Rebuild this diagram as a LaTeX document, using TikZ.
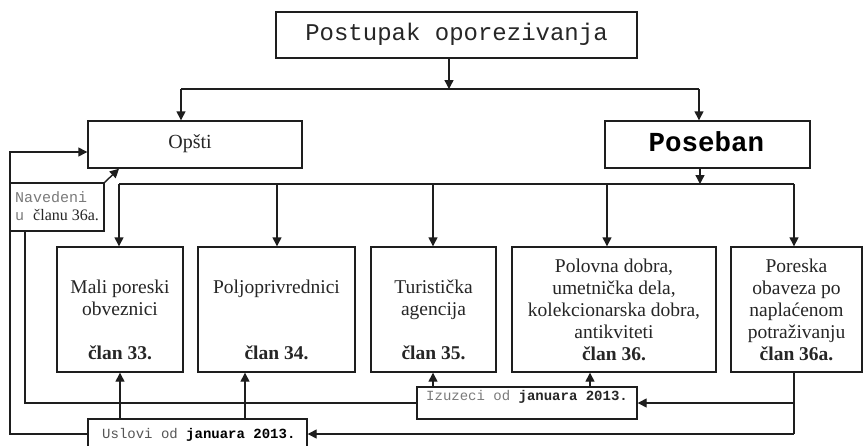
\documentclass[tikz,border=0pt]{standalone}
\usepackage{fontspec}
\setmainfont{Liberation Serif}
\setmonofont{Liberation Mono}
\usetikzlibrary{arrows.meta}
\definecolor{ln}{HTML}{1E1E1E}
\definecolor{gtx}{HTML}{7A7A7A}
\definecolor{dtx}{HTML}{262626}
\tikzset{
  box/.style={draw=ln, line width=1.4pt, rectangle, inner sep=0pt, fill=white},
  conn/.style={draw=ln, line width=1.4pt},
  arr/.style={conn, -{Triangle[length=9pt,width=9pt]}},
  txt/.style={anchor=base, inner sep=0pt, text=dtx},
  bodytxt/.style={txt, font=\fontsize{19.5}{22}\selectfont},
  boldtxt/.style={txt, font=\bfseries\fontsize{19.5}{22}\selectfont},
}
\begin{document}
\begin{tikzpicture}[x=1pt,y=-1pt]
\useasboundingbox (0,0) rectangle (865,445);
\clip (0,0) rectangle (865,445);
\fill[white] (0,0) rectangle (865,445);

% boxes
\node[box, minimum width=361pt, minimum height=46pt] (title) at (456.5,35) {};
\node[box, minimum width=214pt, minimum height=47pt] (opsti) at (195,144.5) {};
\node[box, minimum width=205pt, minimum height=47pt] (poseban) at (707.5,144.5) {};
\node[box, minimum width=126pt, minimum height=125pt] (mali) at (120,309.5) {};
\node[box, minimum width=157pt, minimum height=125pt] (poljo) at (276.5,309.5) {};
\node[box, minimum width=125pt, minimum height=125pt] (turist) at (433.5,309.5) {};
\node[box, minimum width=204pt, minimum height=125pt] (polovna) at (614,309.5) {};
\node[box, minimum width=131pt, minimum height=125pt] (poreska) at (796.5,309.5) {};
\node[box, minimum width=94pt, minimum height=48pt] (navedeni) at (57,207) {};
\node[box, minimum width=219pt, minimum height=30pt] (uslovi) at (197.5,434) {};
\node[box, minimum width=220pt, minimum height=32pt] (izuzeci) at (527,403) {};

% texts
\node[txt, text=dtx, font=\ttfamily\fontsize{24}{24}\selectfont] (ttitle) at (456.5,40) {Postupak oporezivanja};
\node[txt, font=\fontsize{20}{20}\selectfont] (topsti) at (190,148) {Opšti};
\node[txt, text=black, font=\ttfamily\bfseries\fontsize{27.5}{27.5}\selectfont] (tposeban) at (706.5,151) {Poseban};

\node[bodytxt] (tmali1) at (120,293) {Mali poreski};
\node[bodytxt] (tmali2) at (120,315) {obveznici};
\node[boldtxt] (tmali3) at (120,359) {član 33.};

\node[bodytxt] (tpoljo1) at (276.5,293) {Poljoprivrednici};
\node[boldtxt] (tpoljo2) at (276.5,359) {član 34.};

\node[bodytxt] (tturist1) at (433.5,293) {Turistička};
\node[bodytxt] (tturist2) at (433.5,315) {agencija};
\node[boldtxt] (tturist3) at (433.5,359) {član 35.};

\node[bodytxt] (tpol1) at (614,272) {Polovna dobra,};
\node[bodytxt] (tpol2) at (614,294) {umetnička dela,};
\node[bodytxt] (tpol3) at (614,316) {kolekcionarska dobra,};
\node[bodytxt] (tpol4) at (614,338) {antikviteti};
\node[boldtxt] (tpol5) at (614,360) {član 36.};

\node[bodytxt] (tpor1) at (796.5,272) {Poreska};
\node[bodytxt] (tpor2) at (796.5,294) {obaveza po};
\node[bodytxt] (tpor3) at (796.5,316) {naplaćenom};
\node[bodytxt] (tpor4) at (796.5,338) {potraživanju};
\node[boldtxt] (tpor5) at (796.5,360) {član 36a.};

\node[txt, anchor=base west, text=gtx, font=\ttfamily\fontsize{15}{15}\selectfont] (tnav1) at (15,202) {Navedeni};
\node[txt, anchor=base west, font=\fontsize{16}{16}\selectfont] (tnav2) at (15,220) {{\ttfamily\fontsize{15}{15}\selectfont\color{gtx}u }članu 36a.};

\node[txt, anchor=base west, font=\ttfamily\fontsize{14}{14}\selectfont] (tuslovi) at (102,438) {{\color{gtx!70!black}Uslovi od }\textbf{\color{black}januara 2013.}};
\node[txt, anchor=base west, font=\ttfamily\fontsize{14}{14}\selectfont] (tizuzeci) at (426,400) {{\color{gtx}Izuzeci od }\textbf{\color{dtx}januara 2013.}};

% coordinates
\coordinate (jt) at (449,89);
\coordinate (ja) at (181,89);
\coordinate (jb) at (699,89);
\coordinate (bp) at (700,184);
\coordinate (bl) at (119,184);
\coordinate (b2) at (277,184);
\coordinate (b3) at (433,184);
\coordinate (b4) at (607,184);
\coordinate (br) at (794,184);
\coordinate (lo) at (10,152);
\coordinate (li) at (25,403);
\coordinate (u1) at (120,419);
\coordinate (u2) at (245,419);
\coordinate (i1) at (433,387);
\coordinate (i2) at (590,387);
\coordinate (pd) at (794,434);
\coordinate (pm) at (794,403);

% connectors
\draw[arr] (jt |- title.south) -- (jt);
\draw[conn] (ja) -- (jb);
\draw[arr] (ja) -- (ja |- opsti.north);
\draw[arr] (jb) -- (jb |- poseban.north);

\draw[arr] (bp |- poseban.south) -- (bp);
\draw[conn] (bl) -- (br);
\draw[arr] (bl) -- (bl |- mali.north);
\draw[arr] (b2) -- (b2 |- poljo.north);
\draw[arr] (b3) -- (b3 |- turist.north);
\draw[arr] (b4) -- (b4 |- polovna.north);
\draw[arr] (br) -- (br |- poreska.north);

\draw[arr] (navedeni.north east) -- (bl |- opsti.south);
\draw[arr] (uslovi.west) -| (lo) -- (lo -| opsti.west);
\draw[conn] (izuzeci.west) -| (li |- navedeni.south);

\draw[arr] (u1) -- (u1 |- mali.south);
\draw[arr] (u2) -- (u2 |- poljo.south);
\draw[arr] (i1) -- (i1 |- turist.south);
\draw[arr] (i2) -- (i2 |- polovna.south);

\draw[conn] (pd |- poreska.south) -- (pd);
\draw[arr] (pd) -- (uslovi.east);
\draw[arr] (pm) -- (izuzeci.east);
\end{tikzpicture}
\end{document}
